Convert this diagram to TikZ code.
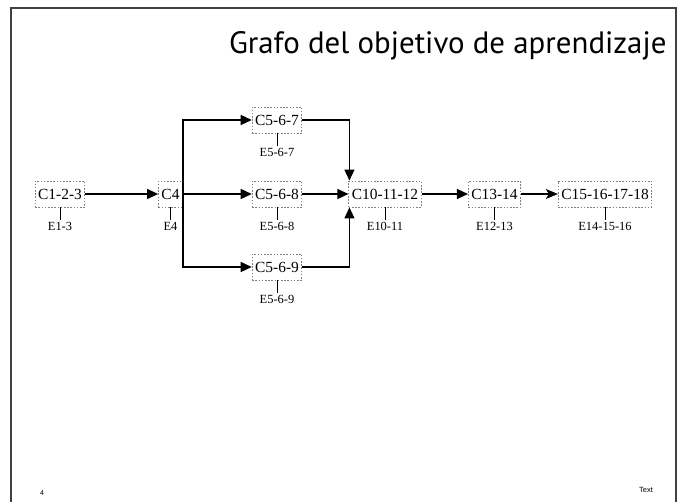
\documentclass[tikz,border=0pt]{standalone}
\usepackage{fontspec}
\setmainfont{Liberation Serif}
\newfontfamily\titlefont{PT Sans}
\newfontfamily\footfont{Liberation Sans}
\usepackage{tikz}
\usetikzlibrary{arrows.meta,%
		calc,%
		positioning}

\tikzset{
	obj/.style={draw=black!50, dash pattern=on 1.6bp off 1.6bp, line width=0.8bp, inner xsep=3bp,
		minimum height=26bp, font=\fontsize{15.5}{18}\selectfont},
	eval/.style={inner sep=1bp, anchor=north, font=\fontsize{12.5}{14}\selectfont},
	freccia/.style={line width=1.3bp, -{Triangle[length=11bp,width=10bp]}},
	freccias/.style={line width=1.3bp, -{Stealth[length=12bp,width=10bp,inset=3bp]}},
	gancio/.style={line width=0.9bp}
}

\begin{document}
\begin{tikzpicture}[x=1bp,y=-1bp]
\useasboundingbox (0,0) rectangle (681,502);
%cornice
\draw[line width=1.5bp, black!75] (11,503) |- (676,8) -- (676,503);
\node[anchor=base east, font=\titlefont\fontsize{31}{34}\selectfont] (titolo) at (670,54) {Grafo del objetivo de aprendizaje};
\node[anchor=base, font=\footfont\fontsize{7}{8}\selectfont] (pagina) at (42,495) {4};
\node[anchor=base, font=\footfont\fontsize{7.5}{8}\selectfont] (testo) at (646,492) {Text};

%i contenuti
\node[obj] (c123) at (60,194) {C1-2-3};
\node[obj] (c4) at (170.5,194) {C4};
\node[obj] (c567) at (277,120) {C5-6-7};
\node[obj] (c568) at (277,194) {C5-6-8};
\node[obj] (c569) at (277,267) {C5-6-9};
\node[obj] (c101112) at (385,194) {C10-11-12};
\node[obj] (c1314) at (494.5,194) {C13-14};
\node[obj] (c15161718) at (605,194) {C15-16-17-18};

%le valutazioni
\foreach \c/\e/\t in {c123/e13/E1-3, c4/e4/E4, c567/e567/E5-6-7, c568/e568/E5-6-8,
		c569/e569/E5-6-9, c101112/e1011/E10-11, c1314/e1213/E12-13, c15161718/e141516/E14-15-16}{
	\node[eval] (\e) at ($(\c.south)+(0,14)$) {\t};
	\draw[gancio] (\c.south) -- ($(\e.north)+(0,-1)$);
}

%le frecce
\coordinate (ingsu) at ($(c101112.north west)+(1,0)$);
\coordinate (ingiu) at ($(c101112.south west)+(1,0)$);
\draw[freccia] (c123) -- (c4);
\draw[freccia] (c4) -- (c568);
\draw[freccia] (c4.east) |- (c567.west);
\draw[freccia] (c4.east) |- (c569.west);
\draw[freccia] (c567.east) -| (ingsu);
\draw[freccia] (c568) -- (c101112);
\draw[freccia] (c569.east) -| (ingiu);
\draw[freccia] (c101112) -- (c1314);
\draw[freccias] (c1314) -- (c15161718);

\end{tikzpicture}
\end{document}
